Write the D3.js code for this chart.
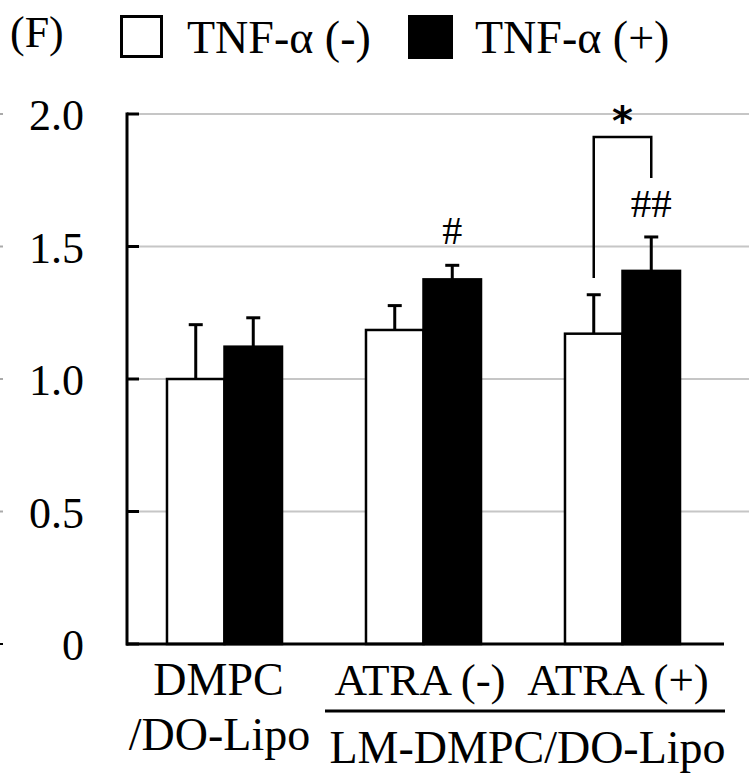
<!DOCTYPE html>
<html><head><meta charset="utf-8">
<script src="https://cdn.jsdelivr.net/npm/d3@7"></script>
<style>body{margin:0;background:#fff}svg{display:block}</style>
</head><body>
<svg id="c" width="749" height="776"></svg>
<script>
const groups = ["g1", "g2", "g3"];
const seriesNames = ["TNF-α (-)", "TNF-α (+)"];
const valuesMinus = [1.00, 1.185, 1.171];
const errorsMinus = [0.205, 0.092, 0.147];
const valuesPlus = [1.122, 1.376, 1.408];
const errorsPlus = [0.109, 0.053, 0.128];
const yTicks = [0, 0.5, 1.0, 1.5, 2.0];
const yTickLabels = ["0", "0.5", "1.0", "1.5", "2.0"];

const SERIF = "'Liberation Serif'";
const svg = d3.select("#c");
const x0 = d3.scaleBand().domain(groups).range([125, 722]).paddingInner(0).paddingOuter(0);
const x1 = d3.scaleBand().domain([0, 1]).range([0, x0.bandwidth()]).paddingOuter(0.73).paddingInner(0);
const y = d3.scaleLinear().domain([0, 2]).range([644, 114]);

// gridlines
svg.append("g").selectAll("line").data(yTicks.filter(d => d > 0)).join("line")
  .attr("x1", 139).attr("x2", 749).attr("y1", d => y(d)).attr("y2", d => y(d))
  .attr("stroke", "#c6c6c6").attr("stroke-width", 2);
// left edge marks
svg.append("g").selectAll("line").data(yTicks).join("line")
  .attr("x1", 0).attr("x2", 3).attr("y1", d => y(d)).attr("y2", d => y(d))
  .attr("stroke", d => d === 0 ? "#000" : "#aaa").attr("stroke-width", 2);

// bars
const data = [];
groups.forEach((g, i) => {
  data.push({g, s: 0, v: valuesMinus[i], e: errorsMinus[i]});
  data.push({g, s: 1, v: valuesPlus[i], e: errorsPlus[i]});
});
const bx = (g, s) => x0(g) + x1(s) + x1.bandwidth() / 2;
const barG = svg.append("g");
barG.selectAll("line.err").data(data).join("line")
  .attr("x1", d => bx(d.g, d.s)).attr("x2", d => bx(d.g, d.s))
  .attr("y1", d => y(d.v)).attr("y2", d => y(d.v + d.e))
  .attr("stroke", "#000").attr("stroke-width", 3);
barG.selectAll("line.cap").data(data).join("line")
  .attr("x1", d => bx(d.g, d.s) - 7).attr("x2", d => bx(d.g, d.s) + 7)
  .attr("y1", d => y(d.v + d.e)).attr("y2", d => y(d.v + d.e))
  .attr("stroke", "#000").attr("stroke-width", 3);
barG.selectAll("rect").data(data).join("rect")
  .attr("x", d => x0(d.g) + x1(d.s))
  .attr("width", x1.bandwidth())
  .attr("y", d => y(d.v)).attr("height", d => y(0) - y(d.v))
  .attr("fill", d => d.s ? "#000" : "#fff")
  .attr("stroke", "#000").attr("stroke-width", 2.5);

// axes
const yAxis = svg.append("g");
yAxis.append("line").attr("x1", 127).attr("x2", 127).attr("y1", y(2) - 1.5).attr("y2", y(0) + 1.5)
  .attr("stroke", "#000").attr("stroke-width", 3);
yAxis.selectAll("line.t").data(yTicks).join("line").attr("class", "t")
  .attr("x1", 127).attr("x2", 139).attr("y1", d => y(d)).attr("y2", d => y(d))
  .attr("stroke", "#000").attr("stroke-width", 3);
yAxis.selectAll("text").data(yTicks).join("text")
  .attr("x", 84).attr("y", d => y(d) + 16).attr("text-anchor", "end")
  .attr("font-family", SERIF).attr("font-size", 44).text((d, i) => yTickLabels[i]);
svg.append("line").attr("x1", 126).attr("x2", 724).attr("y1", y(0)).attr("y2", y(0))
  .attr("stroke", "#000").attr("stroke-width", 3);

// x labels
const cx = g => x0(g) + x0.bandwidth() / 2;
const lab = svg.append("g").attr("font-family", SERIF).attr("text-anchor", "middle");
lab.append("text").attr("x", cx("g1") - 6).attr("y", 695).attr("font-size", 46).text("DMPC");
lab.append("text").attr("x", cx("g1") - 5).attr("y", 750).attr("font-size", 46).text("/DO-Lipo");
lab.append("text").attr("x", cx("g2") - 3.5).attr("y", 695).attr("font-size", 45).text("ATRA (-)");
lab.append("text").attr("x", cx("g3") - 4.5).attr("y", 695).attr("font-size", 45).text("ATRA (+)");
svg.append("line").attr("x1", 325).attr("x2", 725).attr("y1", 711).attr("y2", 711)
  .attr("stroke", "#000").attr("stroke-width", 3);
lab.append("text").attr("x", 527.5).attr("y", 763).attr("font-size", 46).text("LM-DMPC/DO-Lipo");

// significance marks
svg.append("text").attr("x", bx("g2", 1)).attr("y", 244).attr("text-anchor", "middle")
  .attr("font-family", SERIF).attr("font-size", 40).text("#");
svg.append("text").attr("x", bx("g3", 1)).attr("y", 217).attr("text-anchor", "middle")
  .attr("font-family", SERIF).attr("font-size", 41).text("##");
svg.append("path")
  .attr("d", `M${bx("g3",0)},278 V137 H${bx("g3",1)} V178`)
  .attr("fill", "none").attr("stroke", "#000").attr("stroke-width", 2.5);
svg.append("text").attr("x", (bx("g3",0) + bx("g3",1)) / 2).attr("y", 135).attr("text-anchor", "middle")
  .attr("font-size", 40).attr("font-family", "'DejaVu Sans'").attr("font-weight", "bold").text("*");

// legend
const leg = svg.append("g").attr("font-family", SERIF);
leg.append("text").attr("x", 10).attr("y", 47).attr("font-size", 44).text("(F)");
leg.append("rect").attr("x", 121.5).attr("y", 16.5).attr("width", 40).attr("height", 40)
  .attr("fill", "#fff").attr("stroke", "#000").attr("stroke-width", 3);
leg.append("text").attr("x", 187).attr("y", 53).attr("font-size", 46).text(seriesNames[0]);
leg.append("rect").attr("x", 408).attr("y", 15).attr("width", 45).attr("height", 44).attr("fill", "#000");
leg.append("text").attr("x", 475).attr("y", 53).attr("font-size", 46).text(seriesNames[1]);
</script>
</body></html>
